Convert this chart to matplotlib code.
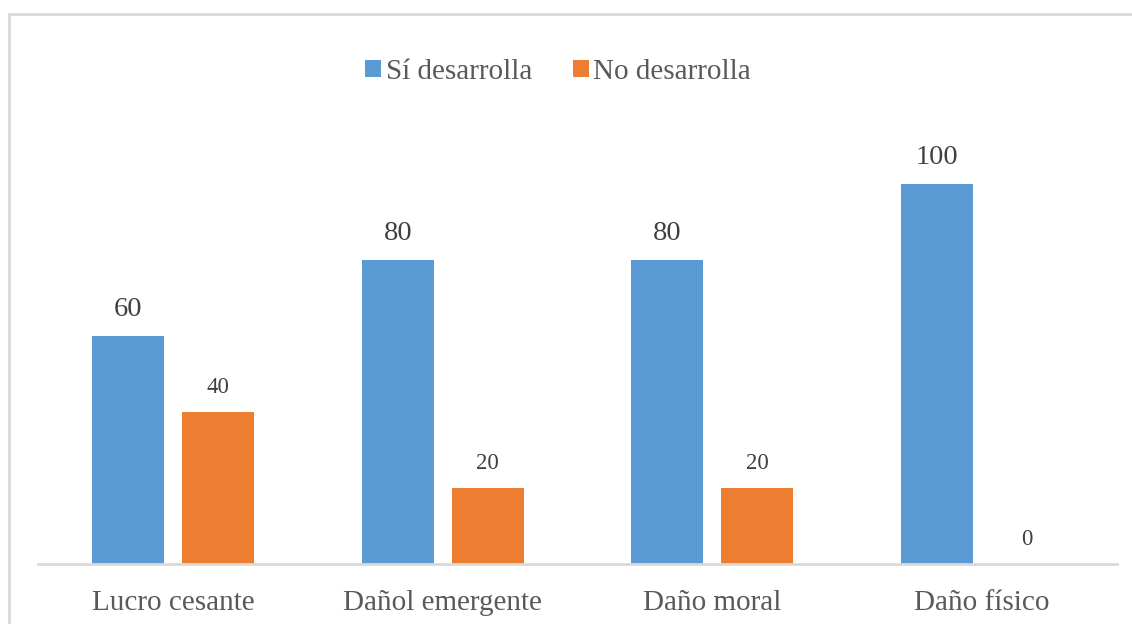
import matplotlib.pyplot as plt
import numpy as np
from matplotlib.patches import Rectangle

plt.rcParams['font.family'] = ['Liberation Serif', 'DejaVu Serif']

categories = ['Lucro cesante', 'Dañol emergente', 'Daño moral', 'Daño físico']
si_desarrolla = [60, 80, 80, 100]
no_desarrolla = [40, 20, 20, 0]
series_names = ['Sí desarrolla', 'No desarrolla']

blue = '#5B9BD5'
orange = '#ED7D31'
grey_line = '#D9D9D9'

W, H = 1132, 624
fig = plt.figure(figsize=(W / 100, H / 100), dpi=100)

# chart frame (cut off at right/bottom like the source)
fig.patches.append(Rectangle((9 / W, -0.05), 1.2, (H - 14) / H + 0.05,
                             transform=fig.transFigure, fill=False,
                             edgecolor=grey_line, linewidth=2))

ax = fig.add_axes([38 / W, 60 / H, 1079 / W, 456 / H])
x = np.arange(len(categories))
width = 0.267
offset = 0.1665

b1 = ax.bar(x - offset, si_desarrolla, width, color=blue, label=series_names[0])
b2 = ax.bar(x + offset, no_desarrolla, width, color=orange, label=series_names[1])

for rect, v in zip(b1, si_desarrolla):
    ax.annotate(f'{v}', (rect.get_x() + rect.get_width() / 2, v),
                xytext=(0, 10), textcoords='offset points',
                ha='center', va='bottom', fontsize=20.5, color='#404040')
for rect, v in zip(b2, no_desarrolla):
    ax.annotate(f'{v}', (rect.get_x() + rect.get_width() / 2, v),
                xytext=(0, 10), textcoords='offset points',
                ha='center', va='bottom', fontsize=16.5, color='#404040')

ax.set_xlim(-0.5, len(categories) - 0.5)
ax.set_ylim(0, 120)
ax.set_xticks(x)
ax.set_xticklabels(categories, fontsize=21, color='#595959')
ax.tick_params(axis='x', length=0, pad=19)
ax.set_yticks([])
for side in ['top', 'right', 'left']:
    ax.spines[side].set_visible(False)
ax.spines['bottom'].set_color(grey_line)
ax.spines['bottom'].set_linewidth(2)

leg = fig.legend(loc='center', bbox_to_anchor=(558 / W, 1 - 72 / H), ncol=2,
                 frameon=False, fontsize=21, handlelength=0.55, handleheight=0.55,
                 handletextpad=0.15, columnspacing=1.4, labelcolor='#595959')

fig.savefig('out.png', dpi=100)
